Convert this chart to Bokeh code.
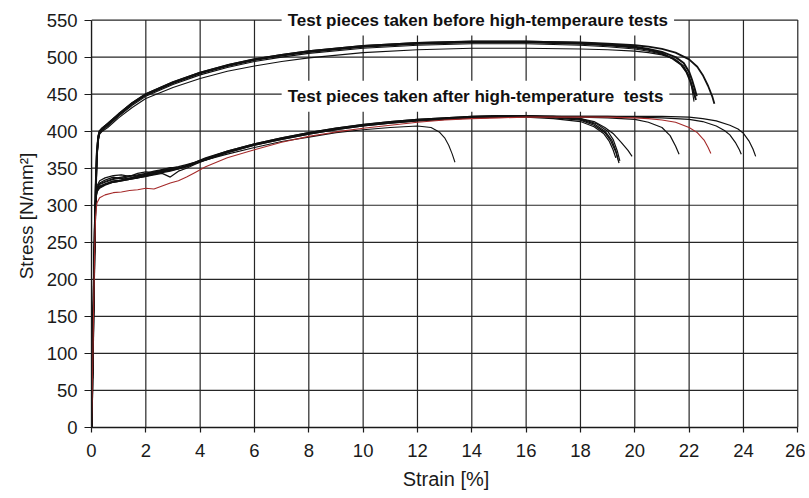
from bokeh.plotting import figure
from bokeh.models import Label, FixedTicker
from bokeh.embed import file_html
from bokeh.resources import INLINE

# ---------------- data ----------------
x_ticks = [0, 2, 4, 6, 8, 10, 12, 14, 16, 18, 20, 22, 24, 26]
y_ticks = [0, 50, 100, 150, 200, 250, 300, 350, 400, 450, 500, 550]

# Test pieces taken before high-temperature tests
before_x_body = [0, 0.03, 0.06, 0.09, 0.12, 0.16, 0.2, 0.25, 0.3, 0.4, 0.6, 1.0, 1.5, 2, 3, 4, 5, 6, 7, 8, 10, 12, 14, 16, 18, 19, 20, 20.5, 21]

b1_y = [0, 60, 130, 200, 265, 330, 372, 393, 400, 404, 410, 423, 438, 450, 466, 479, 489, 497, 503, 508, 515, 519, 521, 521, 519, 517, 514, 511, 507]
b1_tx = [21.5, 21.8, 22.0, 22.1, 22.2, 22.28]
b1_ty = [500, 492, 480, 470, 458, 447]

b2_y = [0, 55, 125, 195, 262, 325, 370, 391, 399, 403, 409, 422, 437, 449, 465, 478, 488, 496, 502, 507, 514, 518, 520, 520, 518, 516, 513, 510, 505]
b2_tx = [21.4, 21.7, 21.9, 22.05, 22.15, 22.25]
b2_ty = [498, 490, 480, 467, 455, 442]

b3_y = [0, 50, 120, 190, 255, 320, 365, 388, 396, 400, 405, 418, 432, 444, 459, 471, 481, 488, 494, 499, 506, 510, 512, 512, 511, 510, 508, 506, 503]
b3_tx = [21.5, 21.8, 22.0, 22.1, 22.18]
b3_ty = [497, 488, 474, 458, 440]

b4_y = [0, 58, 128, 198, 263, 328, 371, 392, 400, 404, 410, 423, 438, 450, 466, 479, 489, 497, 503, 508, 515, 519, 521, 521, 520, 518, 516, 514, 511]
b4_tx = [21.5, 22.0, 22.3, 22.5, 22.7, 22.85, 22.93]
b4_ty = [506, 497, 487, 476, 461, 447, 437]

b5_y = [0, 52, 122, 192, 258, 322, 368, 389, 397, 401, 407, 420, 435, 447, 463, 476, 486, 494, 500, 505, 512, 516, 518, 518, 516, 514, 511, 508, 504]
b5_tx = [21.4, 21.7, 21.9, 22.05, 22.15, 22.22]
b5_ty = [498, 490, 480, 468, 456, 446]

# Test pieces taken after high-temperature tests
after_x_body = [0, 0.03, 0.06, 0.09, 0.12, 0.15, 0.2, 0.3, 0.5, 0.8, 1.1, 1.4, 1.7, 2.0, 2.3, 2.6, 2.9, 3.2, 3.5, 3.8, 4.2, 5, 6, 7, 8, 9, 10, 11, 12]

a1_y = [0, 60, 130, 200, 262, 305, 321, 326, 329, 333, 334, 336, 338, 340, 342, 345, 347, 349, 352, 356, 362, 372, 382, 390, 397, 403, 408, 412, 415]
a1_tx = [13, 14, 15, 16, 17, 18, 18.5, 18.9, 19.1, 19.3, 19.42]
a1_ty = [417, 419, 420, 420, 418, 415, 408, 398, 388, 372, 357]

a2_y = [0, 58, 128, 198, 260, 306, 324, 330, 334, 338, 336, 339, 341, 343, 346, 348, 350, 352, 355, 358, 364, 373, 383, 391, 398, 404, 409, 413, 416]
a2_tx = [13, 14, 15, 16, 17, 18, 18.5, 18.9, 19.15, 19.3, 19.38]
a2_ty = [418, 420, 421, 421, 419, 416, 410, 400, 388, 374, 362]

a3_y = [0, 55, 125, 195, 258, 303, 318, 323, 327, 331, 333, 335, 337, 339, 341, 343, 338, 346, 350, 355, 361, 371, 381, 389, 396, 402, 407, 411, 414]
a3_tx = [13, 14, 15, 16, 17, 18, 18.5, 18.85, 19.05, 19.2, 19.3]
a3_ty = [416, 418, 419, 419, 417, 413, 406, 397, 387, 375, 364]

a4_y = [0, 62, 132, 202, 264, 308, 326, 333, 337, 340, 341, 339, 343, 345, 344, 348, 351, 350, 354, 358, 363, 373, 383, 391, 398, 404, 409, 413, 416]
a4_tx = [13, 14, 15, 16, 17, 18, 18.6, 19.0, 19.2, 19.35, 19.45]
a4_ty = [418, 420, 421, 421, 420, 417, 410, 400, 389, 374, 360]

a5_y = [0, 57, 127, 197, 259, 304, 320, 325, 328, 331, 333, 335, 337, 339, 342, 344, 346, 349, 352, 357, 363, 372, 382, 390, 397, 403, 408, 412, 415]
a5_tx = [13, 14, 15, 16, 17, 18, 18.5, 18.9, 19.2, 19.5, 19.75, 19.9]
a5_ty = [417, 419, 420, 420, 419, 417, 413, 405, 397, 385, 374, 366]

a6_y = [0, 59, 129, 199, 261, 306, 322, 328, 331, 335, 337, 336, 340, 342, 345, 347, 349, 351, 353, 357, 362, 372, 382, 390, 397, 403, 408, 412, 415]
a6_tx = [13, 14, 15, 16, 17, 18, 19, 20, 20.5, 21.0, 21.3, 21.5, 21.63]
a6_ty = [417, 419, 420, 420, 420, 419, 418, 416, 412, 405, 394, 380, 369]

red_y = [0, 55, 120, 185, 245, 285, 303, 310, 314, 317, 318, 320, 321, 323, 322, 326, 330, 333, 338, 344, 352, 364, 375, 385, 393, 399, 404, 408, 412]
red_tx = [13, 14, 15, 16, 17, 18, 19, 20, 20.5, 21, 21.5, 22, 22.3, 22.55, 22.7, 22.8]
red_ty = [415, 417, 418, 419, 419, 419, 419, 418, 417, 415, 412, 405, 398, 388, 378, 370]

a8_y = [0, 61, 131, 201, 263, 307, 323, 329, 332, 336, 338, 340, 339, 342, 344, 346, 348, 350, 353, 357, 362, 372, 382, 390, 397, 403, 408, 412, 415]
a8_tx = [13, 14, 15, 16, 17, 18, 19, 20, 21, 22, 22.5, 23, 23.3, 23.5, 23.7, 23.85, 23.92]
a8_ty = [417, 419, 420, 420, 420, 420, 420, 419, 418, 416, 413, 407, 401, 395, 385, 375, 369]

a9_y = [0, 56, 126, 196, 259, 304, 319, 324, 328, 332, 334, 337, 338, 340, 343, 345, 348, 350, 352, 356, 361, 371, 381, 389, 396, 402, 407, 411, 414]
a9_tx = [13, 14, 15, 16, 17, 18, 19, 20, 21, 22, 22.5, 23, 23.5, 23.8, 24.0, 24.2, 24.35, 24.45]
a9_ty = [416, 418, 419, 420, 420, 420, 420, 420, 420, 419, 417, 414, 408, 403, 397, 387, 376, 366]

a10_y = [0, 57, 127, 197, 260, 305, 320, 325, 328, 332, 334, 336, 337, 341, 343, 346, 348, 351, 353, 357, 361, 369, 378, 386, 392, 398, 402, 405, 407]
a10_tx = [12.5, 12.8, 13.0, 13.15, 13.28, 13.38]
a10_ty = [405, 399, 391, 381, 369, 358]

label_before = "Test pieces taken before high-temperaure tests"
label_after = "Test pieces taken after high-temperature\u00a0 tests"

# ---------------- figure ----------------
FONT = "Liberation Sans"
X_MIN, X_MAX = x_ticks[0], x_ticks[-1]
Y_MIN, Y_MAX = y_ticks[0], y_ticks[-1]

# a little headroom above 550 so the top caption (which masks the 550 line) is not clipped
p = figure(width=805, height=492, x_range=(X_MIN, 26.1), y_range=(Y_MIN, 571),
           output_backend="svg", toolbar_location=None,
           min_border_left=91, min_border_right=5, min_border_top=4, min_border_bottom=64,
           background_fill_color="white", border_fill_color="white")
p.outline_line_color = None
p.grid.grid_line_color = None

p.xaxis.ticker = FixedTicker(ticks=x_ticks)
p.yaxis.ticker = FixedTicker(ticks=y_ticks)
p.xaxis.bounds = (X_MIN, X_MAX)
p.yaxis.bounds = (Y_MIN, Y_MAX)
for ax in (p.xaxis[0], p.yaxis[0]):
    ax.major_label_text_font = FONT
    ax.major_label_text_font_size = "18.5px"
    ax.major_label_text_color = "#1a1a1a"
    ax.axis_label_text_font = FONT
    ax.axis_label_text_font_style = "normal"
    ax.axis_label_text_color = "#1a1a1a"
    ax.axis_line_color = "#1a1a1a"
    ax.axis_line_width = 1.3
    ax.major_tick_line_color = "#1a1a1a"
    ax.major_tick_line_width = 1.2
    ax.major_tick_in = 0
    ax.minor_tick_line_color = None
p.xaxis.major_tick_out = 5
p.yaxis.major_tick_out = 7
p.xaxis.major_label_standoff = 11
p.yaxis.major_label_standoff = 7
p.xaxis.axis_label = "Strain [%]"
p.yaxis.axis_label = "Stress [N/mm²]"
p.xaxis.axis_label_text_font_size = "20px"
p.yaxis.axis_label_text_font_size = "19px"
p.xaxis.axis_label_standoff = 8
p.yaxis.axis_label_standoff = 7

# grid lines drawn from the tick lists, limited to the 0..26 / 0..550 box
n_x = len(x_ticks)
n_y = len(y_ticks)
p.segment(x0=x_ticks, y0=[Y_MIN] * n_x, x1=x_ticks, y1=[Y_MAX] * n_x,
          line_color="#262626", line_width=1.2)
p.segment(x0=[X_MIN] * n_y, y0=y_ticks, x1=[X_MAX] * n_y, y1=y_ticks,
          line_color="#262626", line_width=1.2)

before = [
    (b1_y, b1_tx, b1_ty, 2.0),
    (b2_y, b2_tx, b2_ty, 2.0),
    (b3_y, b3_tx, b3_ty, 1.1),
    (b4_y, b4_tx, b4_ty, 1.8),
    (b5_y, b5_tx, b5_ty, 1.1),
]
for ys, tx, ty, w in before:
    p.line(before_x_body + tx, ys + ty, line_color="#111111", line_width=w)

after = [
    (a1_y, a1_tx, a1_ty, 1.3),
    (a2_y, a2_tx, a2_ty, 1.3),
    (a3_y, a3_tx, a3_ty, 1.2),
    (a4_y, a4_tx, a4_ty, 1.2),
    (a5_y, a5_tx, a5_ty, 1.2),
    (a6_y, a6_tx, a6_ty, 1.2),
    (a8_y, a8_tx, a8_ty, 1.2),
    (a9_y, a9_tx, a9_ty, 1.2),
    (a10_y, a10_tx, a10_ty, 1.1),
]
for ys, tx, ty, w in after:
    p.line(after_x_body + tx, ys + ty, line_color="#111111", line_width=w)
p.line(after_x_body + red_tx, red_y + red_ty, line_color="#a52a2a", line_width=1.1)

for txt, yv in ((label_before, 550), (label_after, 447)):
    p.add_layout(Label(x=7.0, y=yv, text=txt, text_font=FONT, text_font_style="bold",
                       text_font_size="17px", text_color="#111111",
                       text_align="left", text_baseline="middle",
                       background_fill_color="white", padding=6))

open("out.html", "w").write(file_html(p, INLINE))
